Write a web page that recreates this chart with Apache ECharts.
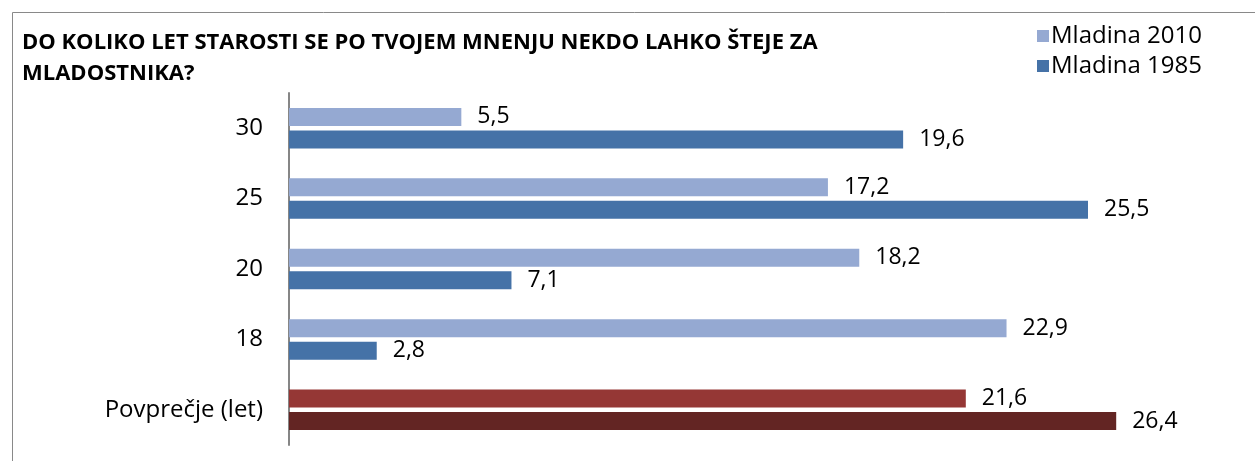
<!DOCTYPE html>
<html>
<head>
<meta charset="utf-8">
<script src="https://cdn.jsdelivr.net/npm/echarts@6/dist/echarts.min.js"></script>
<style>
  html, body { margin: 0; padding: 0; background: #fff; }
  #chart { width: 1255px; height: 461px; }
</style>
</head>
<body>
<div id="chart"></div>
<script>
const categories = ['30', '25', '20', '18', 'Povprečje (let)'];
const mladina2010 = [5.5, 17.2, 18.2, 22.9, 21.6];
const mladina1985 = [19.6, 25.5, 7.1, 2.8, 26.4];
const seriesNames = ['Mladina 2010', 'Mladina 1985'];

const FONT = '"Open Sans", "Noto Sans", sans-serif';
const avgIndex = categories.length - 1;

// zadnja kategorija (povprečje) ima rdeče stolpce
const toData = (values, color, avgColor) => values.map((v, i) => ({
    value: v,
    itemStyle: { color: i === avgIndex ? avgColor : color }
}));

const label = {
    show: true,
    position: 'right',
    distance: 16,
    color: '#000',
    fontFamily: FONT,
    fontSize: 23,
    formatter: (p) => String(p.value).replace('.', ',')
};

const chart = echarts.init(document.getElementById('chart'), null, { renderer: 'canvas' });
const option = {
    animation: false,
    backgroundColor: '#fff',
    title: {
        text: 'DO KOLIKO LET STAROSTI SE PO TVOJEM MNENJU NEKDO LAHKO ŠTEJE ZA\nMLADOSTNIKA?',
        left: 17,
        top: 22,
        textStyle: {
            fontFamily: FONT,
            fontWeight: 'bold',
            fontSize: 22,
            lineHeight: 31,
            color: '#000'
        }
    },
    graphic: [{
        type: 'rect',
        left: 10,
        top: 10,
        shape: { width: 1300, height: 500 },
        style: { fill: 'none', stroke: '#898989', lineWidth: 1 },
        silent: true
    }],
    legend: {
        orient: 'vertical',
        left: 1032,
        top: 19,
        itemWidth: 12,
        itemHeight: 12,
        itemGap: 6,
        icon: 'rect',
        data: seriesNames,
        textStyle: { fontFamily: FONT, fontSize: 24, color: '#000', padding: [0, 0, 0, -3] }
    },
    grid: { left: 289, right: 26, top: 93, bottom: 16 },
    xAxis: {
        type: 'value',
        min: 0,
        max: 30,
        show: false
    },
    yAxis: {
        type: 'category',
        data: categories,
        inverse: true,
        axisLine: { show: true, lineStyle: { color: '#868686', width: 2 } },
        axisTick: { show: false },
        axisLabel: {
            color: '#000',
            fontFamily: FONT,
            fontSize: 24,
            margin: 26
        }
    },
    series: [
        {
            name: seriesNames[0],
            type: 'bar',
            barWidth: 18,
            barGap: '25%',
            itemStyle: { color: '#95A9D2' },
            data: toData(mladina2010, '#95A9D2', '#953735'),
            label
        },
        {
            name: seriesNames[1],
            type: 'bar',
            barWidth: 18,
            itemStyle: { color: '#4572A7' },
            data: toData(mladina1985, '#4572A7', '#632523'),
            label
        }
    ]
};
chart.setOption(option);
</script>
</body>
</html>
